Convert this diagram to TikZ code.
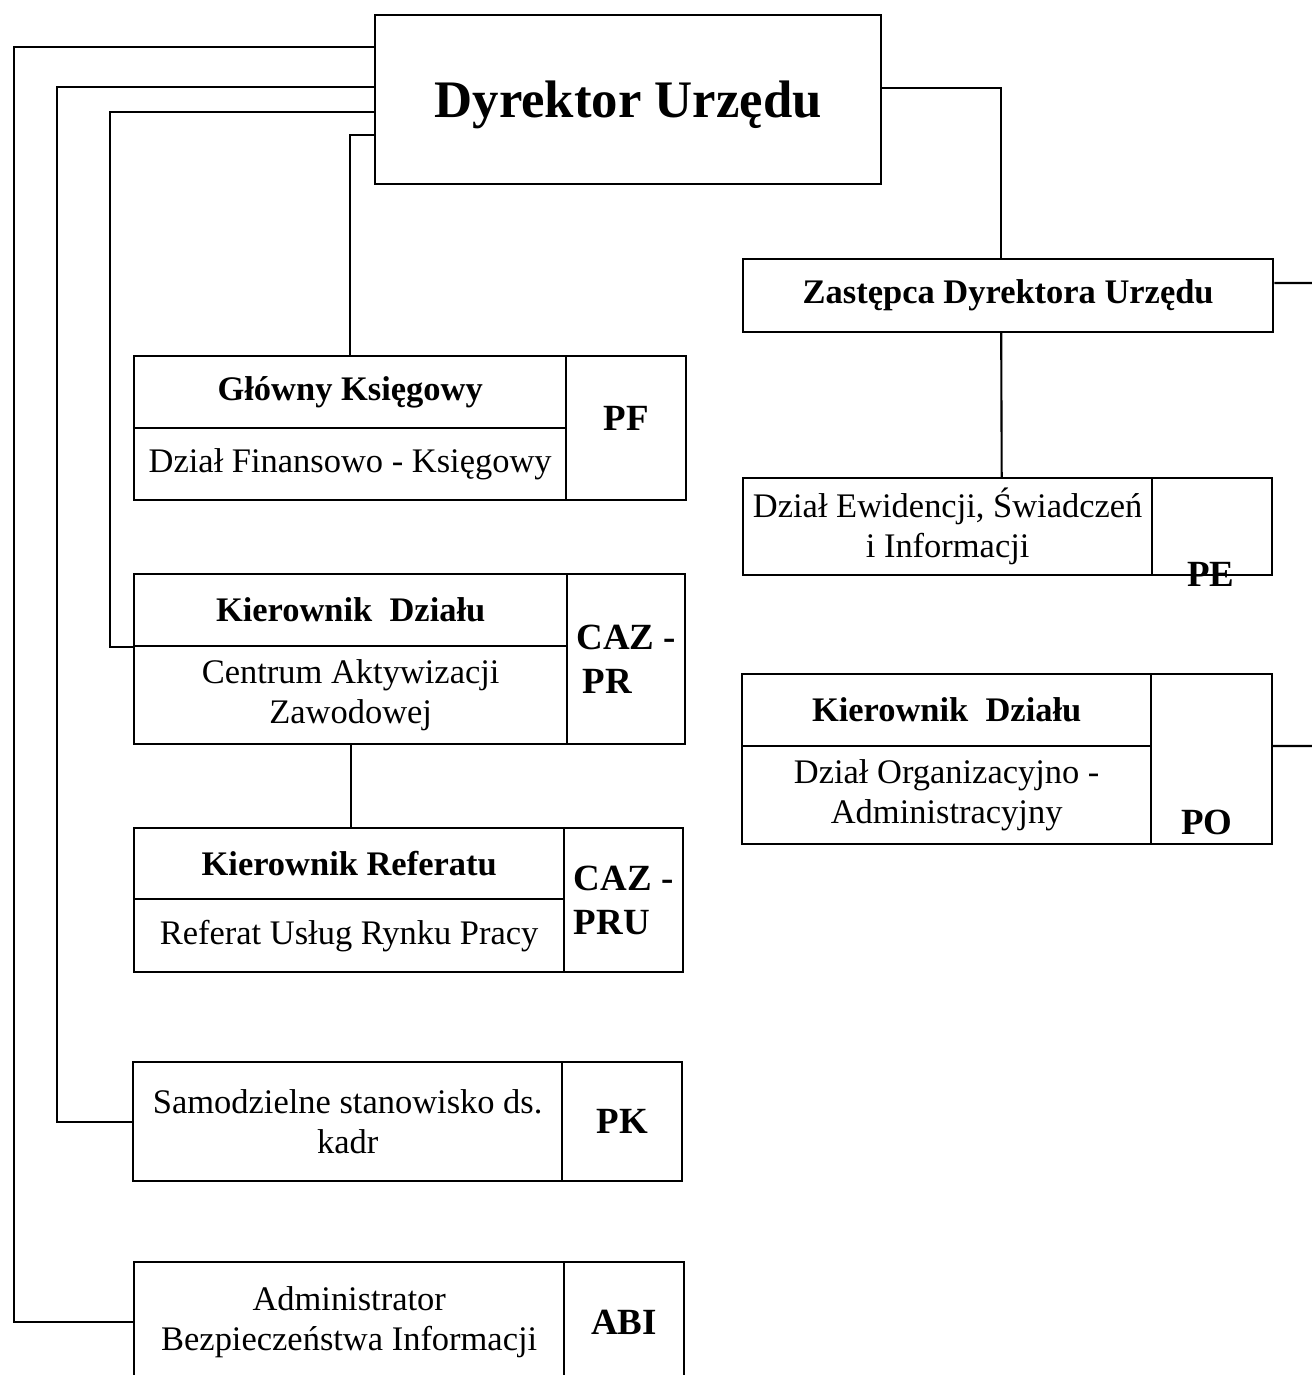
\documentclass[tikz,border=0pt]{standalone}
\usepackage{fontspec}
\setmainfont{Liberation Serif}
\tikzset{
  cell/.style={draw, anchor=north west, inner sep=0pt, align=center,
    font=\fontsize{9.8}{11.4}\selectfont},
  headcell/.style={cell, font=\bfseries\fontsize{9.8}{11.4}\selectfont},
  codecell/.style={cell, font=\bfseries\fontsize{10.5}{12.6}\selectfont},
  codetext/.style={inner sep=0pt, font=\bfseries\fontsize{10.5}{12.6}\selectfont}
}
\begin{document}
\begin{tikzpicture}[x=0.01cm, y=-0.01cm, line width=0.6pt]
      \useasboundingbox (0,0) rectangle (1312,1375);
      \clip (0,0) rectangle (1312,1375);
      \draw
        (374,14) node[cell, minimum width=5.06cm, minimum height=1.69cm, text depth=0pt,
          font=\bfseries\fontsize{15}{18}\selectfont] (dyr){Dyrektor Urzędu}
        (742,258) node[headcell, minimum width=5.30cm, minimum height=0.73cm] (zas){Zastępca Dyrektora Urzędu}
        (133,355) node[headcell, minimum width=4.32cm, minimum height=0.72cm] (gkh){Główny Księgowy}
        (133,427) node[cell, minimum width=4.32cm, minimum height=0.72cm] (gkb){Dział Finansowo - Księgowy}
        (565,355) node[codecell, minimum width=1.20cm, minimum height=1.44cm, text depth=0.2cm] (gkc){PF}
        (133,573) node[headcell, minimum width=4.33cm, minimum height=0.72cm] (kdh){Kierownik~~Działu}
        (133,645) node[cell, minimum width=4.33cm, minimum height=0.98cm] (kdb){Centrum Aktywizacji\\Zawodowej}
        (566,573) node[codecell, align=left, minimum width=1.18cm, minimum height=1.70cm] (kdc){CAZ -\\\,PR}
        (133,827) node[headcell, minimum width=4.30cm, minimum height=0.71cm] (krh){Kierownik Referatu}
        (133,898) node[cell, minimum width=4.30cm, minimum height=0.73cm] (krb){Referat Usług Rynku Pracy}
        (563,827) node[codecell, align=left, minimum width=1.19cm, minimum height=1.44cm] (krc){CAZ -\\PRU}
        (132,1061) node[cell, minimum width=4.29cm, minimum height=1.19cm] (pkb){Samodzielne stanowisko ds.\\kadr}
        (561,1061) node[codecell, minimum width=1.20cm, minimum height=1.19cm] (pkc){PK}
        (133,1261) node[cell, minimum width=4.30cm, minimum height=1.20cm] (abib){Administrator\\Bezpieczeństwa Informacji}
        (563,1261) node[codecell, minimum width=1.20cm, minimum height=1.20cm] (abic){ABI}
        (742,477) node[cell, minimum width=4.09cm, minimum height=0.97cm] (ewb){Dział Ewidencji, Świadczeń\\i Informacji}
        (1151,477) node[cell, minimum width=1.20cm, minimum height=0.97cm] (ewc){}
        (741,673) node[headcell, minimum width=4.09cm, minimum height=0.72cm] (poh){Kierownik~~Działu}
        (741,745) node[cell, minimum width=4.09cm, minimum height=0.98cm] (pob){Dział Organizacyjno -\\Administracyjny}
        (1150,673) node[cell, minimum width=1.21cm, minimum height=1.70cm] (poc){};
      \node[codetext] (pe) at (1211,574) {PE};
      \node[codetext] (po) at (1207,822) {PO};
      \coordinate (zasout) at (1312,283);
      \coordinate (poout) at (1312,746);
      \begin{scope}
        \draw ([yshift=-0.33cm]dyr.north west) -- ++(-360,0) |- (abib.west);
        \draw ([yshift=-0.73cm]dyr.north west) -- ++(-317,0) |- (pkb.west);
        \draw ([yshift=-0.98cm]dyr.north west) -- ++(-264,0) |- (kdh.south west);
        \draw ([yshift=-1.21cm]dyr.north west) -| (gkh.north);
        \draw ([yshift=-0.74cm]dyr.north east) -| ([xshift=-0.07cm]zas.north);
        \draw ([xshift=-0.07cm]zas.south) -- ([xshift=0.54cm]ewb.north);
        \draw ([yshift=-0.25cm]zas.north east) -- (zasout);
        \draw ([yshift=-0.73cm]poc.north east) -- (poout);
        \draw (kdb.south) -- (kdb.south |- krh.north);
      \end{scope}
    \end{tikzpicture}
\end{document}
